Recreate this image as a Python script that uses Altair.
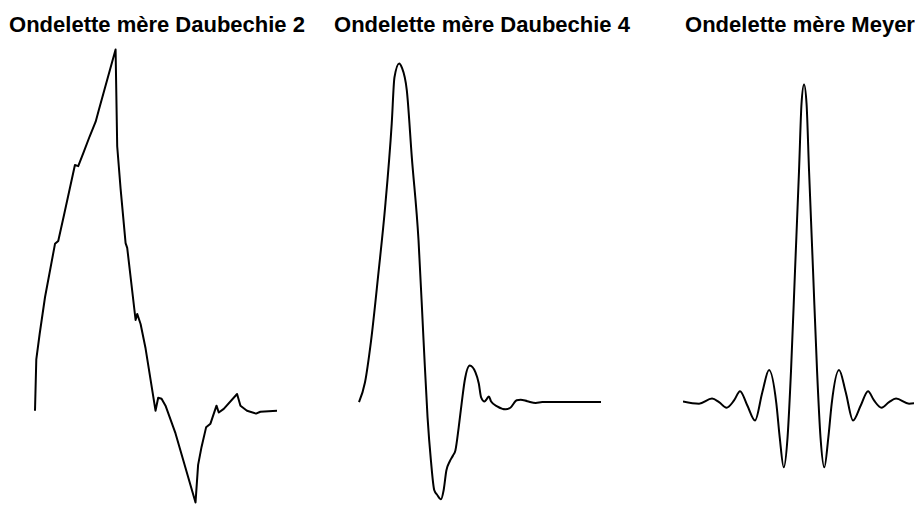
import altair as alt
import pandas as pd

# Daubechies 2 (traced)
d2_x = [0, 0.016, 0.058, 0.124, 0.248, 0.288, 0.359, 0.495, 0.536, 0.607, 0.677, 0.752, 0.792, 0.999,
        1.019, 1.061, 1.123, 1.143, 1.247, 1.267, 1.309, 1.371, 1.494, 1.527, 1.569, 1.618, 1.742, 1.990,
        2.022, 2.064, 2.121, 2.175, 2.250, 2.278, 2.340, 2.505, 2.547, 2.628, 2.740, 2.794, 3.0]
d2_y = [0, 0.194, 0.291, 0.429, 0.631, 0.642, 0.739, 0.929, 0.925, 0.981, 1.037, 1.093, 1.138, 1.366,
        1.0, 0.840, 0.634, 0.616, 0.343, 0.366, 0.328, 0.235, 0.0, 0.049, 0.045, 0.019, -0.086, -0.347,
        -0.205, -0.138, -0.063, -0.049, 0.019, -0.007, 0.007, 0.063, 0.019, 0.0, -0.011, -0.004, 0.0]

# Daubechies 4 (traced)
d4_x = [0, 0.174, 0.343, 0.561, 0.755, 0.947, 1.025, 1.162, 1.237, 1.383, 1.528, 1.722, 1.867, 1.983,
        2.080, 2.178, 2.254, 2.370, 2.448, 2.527, 2.623, 2.719, 2.788, 2.884, 2.980, 3.058, 3.204, 3.369,
        3.465, 3.532, 3.631, 3.689, 3.756, 3.822, 3.997, 4.240, 4.386, 4.560, 4.676, 4.868, 5.112, 5.303, 7.0]
d4_y = [0, 0.066, 0.199, 0.429, 0.649, 0.929, 1.082, 1.129, 1.116, 1.039, 0.816, 0.539, 0.206, -0.051,
        -0.194, -0.294, -0.308, -0.324, -0.294, -0.228, -0.198, -0.178, -0.161, -0.084, 0.006, 0.072, 0.122, 0.099,
        0.062, 0.016, 0.002, 0.009, 0.019, 0.002, -0.014, -0.024, -0.018, 0.006, 0.008, 0.003, -0.003, 0.0, 0.0]

# Meyer (traced, symmetric)
my_x = [-7.0, -6.073, -5.321, -4.916, -4.482, -4.049, -3.702, -3.279, -2.834, -2.412, -2.024, -1.602, -1.405,
        -1.174, -0.954, -0.752, -0.521, -0.289, -0.145, 0, 0.145, 0.289, 0.521, 0.752, 0.954, 1.174, 1.405,
        1.602, 2.024, 2.412, 2.834, 3.279, 3.702, 4.049, 4.482, 4.916, 5.321, 6.073, 7.0]
my_y = [0, -0.007, 0.009, -0.002, -0.020, 0.003, 0.032, -0.013, -0.060, 0.029, 0.099, -0.006, -0.114,
        -0.208, -0.114, 0.098, 0.413, 0.729, 0.940, 1.0, 0.940, 0.729, 0.413, 0.098, -0.114, -0.208, -0.114,
        -0.006, 0.099, 0.029, -0.060, -0.013, 0.032, 0.003, -0.020, -0.002, 0.009, -0.007, 0]

titles = ["Ondelette mère Daubechie 2", "Ondelette mère Daubechie 4", "Ondelette mère Meyer"]

H = 459


def panel(xs, ys, title, xdom, ydom, interp, w=242, dx=0, clip=False):
    df = pd.DataFrame({"x": xs, "y": ys})
    return alt.Chart(df, title=alt.Title(title, anchor="middle", dx=dx)).mark_line(
        color="black", strokeWidth=2, interpolate=interp, clip=clip, strokeJoin="round"
    ).encode(
        x=alt.X("x:Q", axis=None, scale=alt.Scale(domain=xdom, nice=False, zero=False)),
        y=alt.Y("y:Q", axis=None, scale=alt.Scale(domain=ydom, nice=False, zero=False)),
        order="x:Q",
    ).properties(width=w, height=H)


p1 = panel(d2_x, d2_y, titles[0], [0, 3], [-0.351, 1.385], "linear", dx=1)
p2 = panel(d4_x, d4_y, titles[1], [0, 7], [-0.338, 1.192], "monotone", dx=2)
p3 = panel(my_x, my_y, titles[2], [-7, 6.36], [-0.322, 1.126], "monotone", w=231, dx=1.5, clip=True)

chart = alt.hconcat(p1, p2, p3, spacing=82, bounds="flush").properties(
    padding={"left": 1, "top": 5.5, "right": 0, "bottom": 0}
).configure_view(stroke=None).configure_title(
    font="Liberation Sans", fontSize=22, fontWeight="bold", color="black", offset=7.5
)

chart.save("out.html", embed_options={"renderer": "svg", "actions": False})
